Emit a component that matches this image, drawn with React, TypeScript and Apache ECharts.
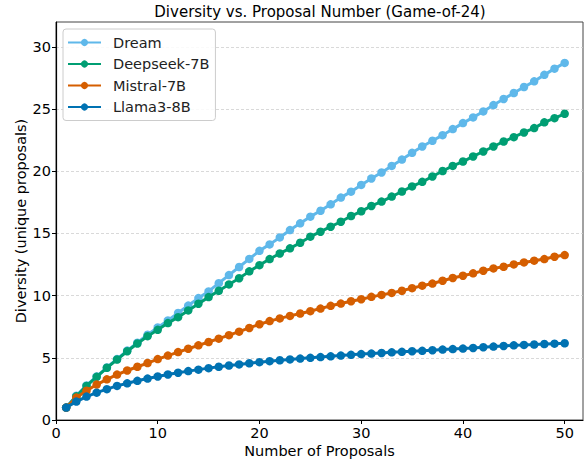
import React, { useEffect, useRef } from "react";
import * as echarts from "echarts";

const proposals: number[] = Array.from({ length: 50 }, (_, i) => i + 1);

const dream: number[] = [
  1.0, 1.95, 2.78, 3.5, 4.22, 4.9, 5.58, 6.22, 6.85, 7.44,
  8.0, 8.6, 9.2, 9.8, 10.34, 11.0, 11.65, 12.3, 12.95, 13.6,
  14.12, 14.68, 15.27, 15.81, 16.35, 16.82, 17.34, 17.88, 18.36, 18.9,
  19.42, 19.9, 20.43, 20.94, 21.48, 21.99, 22.45, 22.9, 23.39, 23.87,
  24.33, 24.81, 25.32, 25.81, 26.29, 26.77, 27.23, 27.75, 28.25, 28.71,
];

const deepseek: number[] = [
  1.0, 1.9, 2.74, 3.47, 4.2, 4.86, 5.53, 6.15, 6.74, 7.25,
  7.79, 8.27, 8.81, 9.35, 9.88, 10.39, 10.9, 11.4, 11.95, 12.45,
  12.94, 13.39, 13.8, 14.25, 14.74, 15.14, 15.54, 15.94, 16.4, 16.78,
  17.21, 17.56, 17.96, 18.37, 18.78, 19.15, 19.58, 20.02, 20.43, 20.78,
  21.19, 21.59, 21.99, 22.39, 22.74, 23.12, 23.47, 23.93, 24.27, 24.62,
];

const mistral: number[] = [
  1.0, 1.8, 2.35, 2.85, 3.27, 3.65, 3.98, 4.28, 4.58, 4.9,
  5.18, 5.46, 5.73, 6.0, 6.27, 6.54, 6.82, 7.1, 7.4, 7.7,
  7.95, 8.17, 8.37, 8.56, 8.75, 8.96, 9.18, 9.36, 9.55, 9.71,
  9.9, 10.06, 10.22, 10.39, 10.6, 10.8, 10.97, 11.2, 11.42, 11.6,
  11.79, 12.0, 12.19, 12.32, 12.51, 12.67, 12.81, 12.94, 13.13, 13.26,
];

const llama: number[] = [
  1.0, 1.48, 1.88, 2.2, 2.48, 2.74, 2.95, 3.15, 3.33, 3.5,
  3.66, 3.8, 3.93, 4.05, 4.17, 4.28, 4.38, 4.47, 4.56, 4.65,
  4.73, 4.8, 4.87, 4.94, 5.0, 5.06, 5.12, 5.18, 5.24, 5.3,
  5.34, 5.39, 5.44, 5.48, 5.53, 5.56, 5.61, 5.66, 5.7, 5.74,
  5.79, 5.85, 5.9, 5.95, 6.0, 6.04, 6.07, 6.11, 6.14, 6.17,
];

const seriesNames: string[] = ["Dream", "Deepseek-7B", "Mistral-7B", "Llama3-8B"];
const seriesColors: string[] = ["#5FB8EA", "#009E73", "#D55E00", "#0072B2"];
const seriesValues: number[][] = [dream, deepseek, mistral, llama];

const xTicks: number[] = [0, 10, 20, 30, 40, 50];
const yTicks: number[] = [0, 5, 10, 15, 20, 25, 30];

const FONT = "DejaVu Sans";
const FS = 14.5;

export default function App() {
  const ref = useRef<HTMLDivElement>(null);

  useEffect(() => {
    if (!ref.current) return;
    const chart = echarts.init(ref.current, undefined, { renderer: "svg" });
    const option: any = {
      animation: false,
      backgroundColor: "#ffffff",
      graphic: [
        {
          type: "text",
          x: 320,
          y: 12,
          style: {
            text: "Diversity vs. Proposal Number (Game-of-24)",
            font: `15px "${FONT}"`,
            fill: "#000",
            align: "center",
            verticalAlign: "middle",
          },
        },
      ],
      legend: {
        left: 63,
        top: 29,
        orient: "vertical",
        padding: [5, 6, 5, 4],
        itemWidth: 33,
        itemHeight: 9,
        itemGap: 4.5,
        backgroundColor: "rgba(255,255,255,0.85)",
        borderColor: "#cccccc",
        borderWidth: 1,
        borderRadius: 3,
        textStyle: { fontFamily: FONT, fontSize: FS, color: "#222", lineHeight: 17, padding: [0, 0, 0, 7] },
        data: seriesNames,
      },
      grid: {
        left: 56,
        top: 22,
        right: 4,
        bottom: 41,
        containLabel: false,
        outerBoundsMode: "none",
        show: true,
        borderColor: "#444",
        borderWidth: 1,
      },
      xAxis: {
        type: "value",
        min: 0,
        max: 51.8,
        interval: 10,
        name: "Number of Proposals",
        nameLocation: "middle",
        nameGap: 23,
        nameMoveOverlap: false,
        nameTextStyle: { fontFamily: FONT, fontSize: FS, color: "#000" },
        axisLine: { show: true, lineStyle: { color: "#000", width: 1.2 } },
        axisTick: { show: true, length: 4, lineStyle: { color: "#000" }, customValues: xTicks },
        axisLabel: { fontFamily: FONT, fontSize: FS, color: "#000", margin: 5, customValues: xTicks },
        splitLine: { show: false },
      },
      yAxis: {
        type: "value",
        min: 0,
        max: 32,
        interval: 5,
        name: "Diversity (unique proposals)",
        nameLocation: "middle",
        nameGap: 28,
        nameMoveOverlap: false,
        nameTextStyle: { fontFamily: FONT, fontSize: FS, color: "#000" },
        axisLine: { show: true, lineStyle: { color: "#000", width: 1.2 } },
        axisTick: { show: true, length: 4, lineStyle: { color: "#000" }, customValues: yTicks },
        axisLabel: { fontFamily: FONT, fontSize: FS, color: "#000", margin: 5, customValues: yTicks },
        splitLine: { show: true, lineStyle: { color: "#cfcfcf", type: [3, 2], width: 0.8 } },
      },
      series: seriesNames.map((name, i) => ({
        name,
        type: "line",
        data: proposals.map((x, j) => [x, seriesValues[i][j]]),
        symbol: "circle",
        symbolSize: 8.5,
        showSymbol: true,
        color: seriesColors[i],
        lineStyle: { width: 3, color: seriesColors[i] },
        itemStyle: { color: seriesColors[i] },
        z: 2 + i,
      })),
    };
    chart.setOption(option);
    return () => chart.dispose();
  }, []);

  return (
    <div
      ref={ref}
      style={{ position: "fixed", left: 0, top: 0, width: 587, height: 461 }}
    />
  );
}
